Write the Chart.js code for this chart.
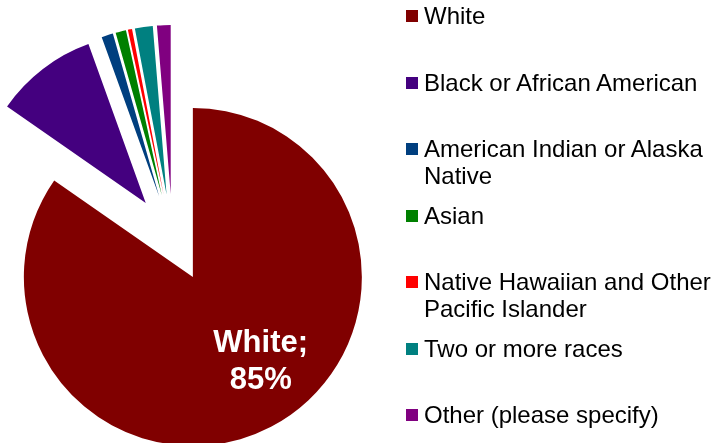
<!DOCTYPE html>
<html>
<head>
<meta charset="utf-8">
<script src="https://cdn.jsdelivr.net/npm/chart.js@4/dist/chart.umd.min.js"></script>
<style>
  body { margin: 0; background: #fff; overflow: hidden; width: 711px; height: 443px; position: relative; }
  #wrap { position: absolute; left: 0; top: 0; width: 711px; height: 476px; }
  #legenda { position: absolute; left: 0; top: 0; font-family: "Liberation Sans", Arial, sans-serif; font-size: 24px; line-height: 27px; color: #000; }
  .item { position: absolute; left: 406px; width: 310px; }
  .item .cor { position: absolute; left: 0; top: 8px; width: 12px; height: 12px; }
  .item .txt { position: absolute; left: 18px; top: 0; width: 290px; }
</style>
</head>
<body>
<div id="wrap"><canvas id="racaChart" width="711" height="476"></canvas></div>
<div id="legenda"></div>
<script>
const categorias = [
  'White',
  'Black or African American',
  'American Indian or Alaska Native',
  'Asian',
  'Native Hawaiian and Other Pacific Islander',
  'Two or more races',
  'Other (please specify)'
];
const percentuais = [84.6, 9.8, 1.1, 1.0, 0.4, 1.7, 1.3];
const cores = ['#800000', '#44007f', '#003f7f', '#008000', '#ff0000', '#008080', '#800080'];

// cada fatia deslocada para fora, desenhada pelo próprio elemento do Chart.js
const explodirFatias = {
  id: 'explodirFatias',
  beforeDatasetDraw(chart, args, opts) {
    const ctx = chart.ctx;
    args.meta.data.forEach(arc => {
      const meio = (arc.startAngle + arc.endAngle) / 2;
      ctx.save();
      ctx.translate(Math.cos(meio) * opts.distancia, Math.sin(meio) * opts.distancia);
      arc.draw(ctx);
      ctx.restore();
    });
    return false;
  }
};

// rótulo "White; 85%" dentro da fatia principal
const rotuloFatia = {
  id: 'rotuloFatia',
  afterDatasetsDraw(chart, args, opts) {
    const ctx = chart.ctx;
    const arc = chart.getDatasetMeta(0).data[0];
    const meio = (arc.startAngle + arc.endAngle) / 2;
    const cx = arc.x + Math.cos(meio) * opts.distancia;
    const cy = arc.y + Math.sin(meio) * opts.distancia;
    const ang = meio + opts.desvio * Math.PI / 180;
    const px = cx + Math.cos(ang) * arc.outerRadius * opts.raio;
    const py = cy + Math.sin(ang) * arc.outerRadius * opts.raio;
    const total = percentuais.reduce((a, v) => a + v, 0);
    const pct = Math.round(percentuais[0] / total * 100);
    ctx.save();
    ctx.fillStyle = '#fff';
    ctx.font = 'bold 31px "Liberation Sans", Arial, sans-serif';
    ctx.textAlign = 'center';
    ctx.textBaseline = 'alphabetic';
    ctx.fillText(categorias[0] + ';', px, py - 7.5);
    ctx.fillText(pct + '%', px, py + 30);
    ctx.restore();
  }
};

function montarLegenda() {
  const legenda = document.getElementById('legenda');
  categorias.forEach((nome, i) => {
    legenda.innerHTML += `
      <div class="item" style="top:${2 + 66.5 * i}px">
        <div class="cor" style="background:${cores[i]}"></div>
        <div class="txt">${nome}</div>
      </div>`;
  });
}

window.onload = function() {
  const ctx = document.getElementById('racaChart').getContext('2d');
  new Chart(ctx, {
    type: 'pie',
    data: {
      labels: categorias,
      datasets: [{
        data: percentuais,
        backgroundColor: cores,
        borderWidth: 0,
        radius: 169
      }]
    },
    options: {
      responsive: false,
      animation: false,
      events: [],
      layout: { padding: { left: 0, right: 366, top: 0, bottom: 0 } },
      plugins: {
        legend: { display: false },
        tooltip: { enabled: false },
        explodirFatias: { distancia: 44 },
        rotuloFatia: { distancia: 44, desvio: -12, raio: 0.63 }
      }
    },
    plugins: [explodirFatias, rotuloFatia]
  });
  montarLegenda();
};
</script>
</body>
</html>
